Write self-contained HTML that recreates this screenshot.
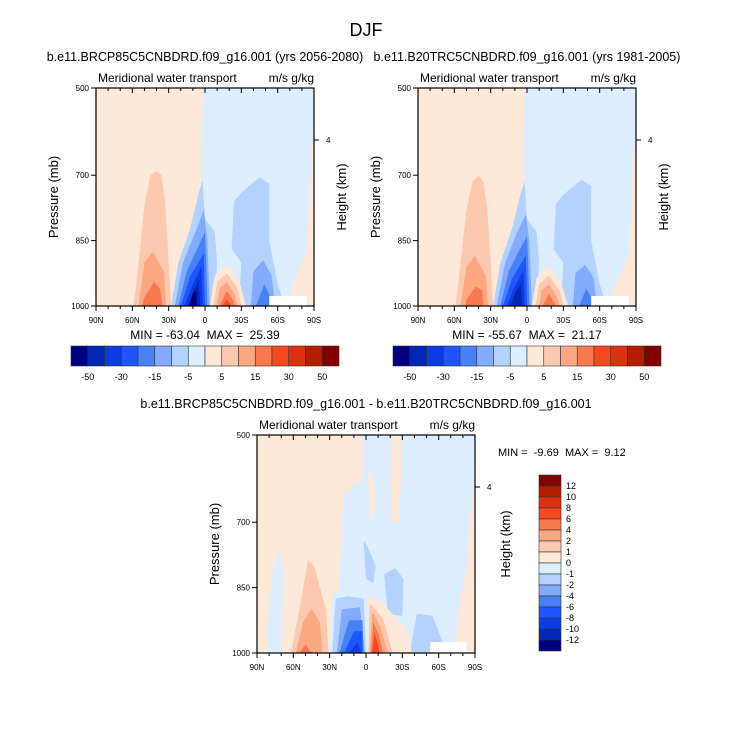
<!DOCTYPE html>
<html><head><meta charset="utf-8"><style>
body{margin:0;background:#fff}
svg text{font-family:"Liberation Sans",sans-serif;fill:#000;white-space:pre}
</style></head><body>
<svg id="c" width="733" height="745" viewBox="0 0 733 745" xmlns="http://www.w3.org/2000/svg">
<text x="366" y="36" font-size="18" text-anchor="middle">DJF</text>
</svg>
<script>
const palette=["#000080","#0028b4","#0a3ce0","#1e55ff","#4682f5","#82aaff","#b4d2ff","#dceeff","#fee8d8","#fcc8b0","#fba882","#f87850","#f54a20","#dc3210","#b41e00","#820000"];
const topLevels=["-50","-30","-15","-5","5","15","30","50"];
const diffLevels=["12","10","8","6","4","2","1","0","-1","-2","-4","-6","-8","-10","-12"];
const latTicks=[90,60,30,0,-30,-60,-90];
const latLabels=["90N","60N","30N","0","30S","60S","90S"];
const pTicks=[500,700,850,1000];
const p1Layers=[
[8,[[90,500],[2,500],[3,712],[8,800],[20,900],[28,1000],[90,1000]]],
[8,[[-90,555],[-84,870],[-73,950],[-68,1000],[-90,1000]]],
[9,[[40,690],[45,700],[50,770],[54,880],[59,1000],[28,1000],[30,900],[33,760],[36,700]]],
[10,[[43,875],[50,900],[55,1000],[32,1000],[34,920]]],
[11,[[42,945],[50,980],[52,1000],[35,1000],[37,960]]],
[6,[[2,712],[0,800],[-8,830],[-10,900],[-8,1000],[28,1000],[22,900],[12,820],[5,740]]],
[5,[[1,780],[-2,850],[-4,1000],[25,1000],[18,900],[8,830]]],
[4,[[0,830],[-1,900],[-2,1000],[22,1000],[15,920],[5,860]]],
[3,[[1,880],[0,1000],[20,1000],[12,930]]],
[2,[[3,910],[2,1000],[17,1000],[10,950]]],
[1,[[5,940],[4,1000],[14,1000],[9,960]]],
[0,[[7,965],[7,1000],[13,1000],[10,970]]],
[6,[[-45,705],[-53,720],[-53,850],[-60,950],[-66,1000],[-28,1000],[-30,900],[-22,870],[-24,760],[-30,740]]],
[5,[[-48,895],[-55,930],[-58,1000],[-38,1000],[-40,920]]],
[4,[[-49,950],[-55,985],[-55,1000],[-42,1000]]],
[8,[[-18,905],[-28,940],[-34,1000],[-4,1000],[-8,930]]],
[9,[[-18,925],[-27,960],[-30,1000],[-7,1000],[-10,945]]],
[10,[[-18,945],[-25,975],[-27,1000],[-10,1000],[-12,960]]],
[11,[[-18,965],[-24,990],[-24,1000],[-12,1000]]],
[12,[[-18,985],[-22,1000],[-14,1000]]]
];
const p2Layers=[
[8,[[90,500],[2,500],[3,715],[8,800],[20,900],[28,1000],[90,1000]]],
[8,[[-90,560],[-84,880],[-73,950],[-68,1000],[-90,1000]]],
[9,[[40,700],[45,715],[50,780],[54,880],[59,1000],[28,1000],[30,900],[33,770],[36,715]]],
[10,[[43,885],[50,910],[55,1000],[32,1000],[34,930]]],
[11,[[42,955],[50,985],[51,1000],[36,1000],[37,965]]],
[6,[[2,715],[0,800],[-8,830],[-10,900],[-8,1000],[28,1000],[22,900],[12,820],[5,740]]],
[5,[[1,790],[-2,850],[-4,1000],[25,1000],[18,900],[8,830]]],
[4,[[0,840],[-1,900],[-2,1000],[22,1000],[15,920],[5,865]]],
[3,[[1,885],[0,1000],[20,1000],[12,935]]],
[2,[[3,920],[2,1000],[17,1000],[10,955]]],
[1,[[5,950],[4,1000],[14,1000],[9,965]]],
[6,[[-45,710],[-53,725],[-53,850],[-60,950],[-66,1000],[-28,1000],[-30,900],[-22,870],[-24,765],[-30,745]]],
[5,[[-48,905],[-55,935],[-58,1000],[-38,1000],[-40,925]]],
[4,[[-49,960],[-55,990],[-55,1000],[-43,1000]]],
[8,[[-18,910],[-28,945],[-34,1000],[-4,1000],[-8,935]]],
[9,[[-18,930],[-27,965],[-30,1000],[-7,1000],[-10,950]]],
[10,[[-18,950],[-25,980],[-27,1000],[-10,1000],[-12,965]]],
[11,[[-18,972],[-23,995],[-23,1000],[-13,1000]]]
];
const p3Layers=[
[8,[[90,500],[3,500],[3,600],[18,640],[20,700],[22,850],[28,870],[30,1000],[90,1000]]],
[7,[[72,768],[68,800],[70,1000],[82,1000],[80,880],[76,800]]],
[8,[[-2,580],[-6,590],[-8,650],[-6,695],[-3,680],[-2,620]]],
[8,[[-22,500],[-29,500],[-29,600],[-27,700],[-22,703],[-20,600]]],
[8,[[-90,500],[-88,640],[-85,700],[-84,800],[-78,870],[-73,1000],[-90,1000]]],
[6,[[2,741],[-2,760],[-8,800],[-6,840],[0,830]]],
[6,[[-15,820],[-24,805],[-31,830],[-30,915],[-18,910]]],
[6,[[-42,910],[-55,915],[-67,1000],[-36,1000]]],
[8,[[-2,870],[-12,880],[-35,950],[-38,1000],[-2,1000]]],
[9,[[-3,885],[-14,920],[-22,1000],[-2,1000]]],
[10,[[-5,905],[-12,940],[-18,1000],[-3,1000]]],
[11,[[-6,930],[-11,960],[-14,1000],[-4,1000]]],
[12,[[-7,955],[-10,980],[-11,1000],[-5,1000]]],
[6,[[25,875],[15,870],[2,875],[0,1000],[28,1000]]],
[5,[[20,900],[5,895],[1,1000],[24,1000]]],
[4,[[14,925],[3,925],[2,1000],[22,1000]]],
[3,[[10,950],[3,950],[3,1000],[18,1000]]],
[2,[[7,975],[4,1000],[14,1000]]],
[9,[[48,787],[43,800],[33,900],[31,1000],[62,1000],[55,900]]],
[10,[[45,898],[38,930],[36,1000],[58,1000],[52,930]]],
[11,[[50,980],[55,1000],[45,1000]]]
];
const noData1=[[-53,977],[-84,1000]];
const noData3=[[-53,975],[-83,1000]];
const NS="http://www.w3.org/2000/svg";
const svg=document.getElementById('c');
function mk(tag,attrs,parent,txt){const e=document.createElementNS(NS,tag);for(const k in attrs)e.setAttribute(k,attrs[k]);if(txt!==undefined)e.textContent=txt;(parent||svg).appendChild(e);return e;}
function panel(x0,y0,w,h,layers,nod,name,sub,minmax,heightX){
  const X=lat=>x0+(90-lat)/180*w, Y=p=>y0+(p-500)/500*h;
  const g=mk('g',{});
  
  
  const bg=mk('rect',{x:x0,y:y0,width:w,height:h,fill:palette[7]},g);
  
  
  layers.forEach(L=>{
    const pth=mk('polygon',{points:L[1].map(q=>X(q[0]).toFixed(1)+','+Y(q[1]).toFixed(1)).join(' '),fill:palette[L[0]]},g);
    
    
  });
  const nd=mk('rect',{x:X(nod[0][0]),y:Y(nod[0][1]),width:X(nod[1][0])-X(nod[0][0]),height:Y(nod[1][1])-Y(nod[0][1]),fill:'#fff'},g);
  
  
  mk('rect',{x:x0,y:y0,width:w,height:h,fill:'none',stroke:'#000','stroke-width':1.2},g);
  for(let l=90;l>=-90;l-=10){
    const mj=l%30===0;
    mk('line',{x1:X(l),x2:X(l),y1:y0+h,y2:y0+h+(mj?5:3),stroke:'#000'},g);
    mk('line',{x1:X(l),x2:X(l),y1:y0,y2:y0+(mj?5:3),stroke:'#000'},g);
  }
  latTicks.forEach((l,i)=>{const t=mk('text',{x:X(l),y:y0+h+17,'font-size':8,'text-anchor':'middle'},g,latLabels[i]);});
  pTicks.forEach(p=>{mk('line',{x1:x0-5,x2:x0,y1:Y(p),y2:Y(p),stroke:'#000'},g);const t=mk('text',{x:x0-7,y:Y(p)+3,'font-size':8,'text-anchor':'end'},g,p);});
  mk('line',{x1:x0+w,x2:x0+w+5,y1:y0+52,y2:y0+52,stroke:'#000'},g);
  mk('text',{x:x0+w+12,y:y0+55,'font-size':8},g,'4');
  let t=mk('text',{x:x0+2,y:y0-6,'font-size':12},g,'Meridional water transport');
  t=mk('text',{x:x0+w,y:y0-6,'font-size':12,'text-anchor':'end'},g,'m/s g/kg');
  if(sub){t=mk('text',{x:x0+w/2,y:y0-27,'font-size':12.5,'text-anchor':'middle'},g,sub);}
  t=mk('text',{transform:`translate(${x0-38},${y0+h/2}) rotate(-90)`,'font-size':13,'text-anchor':'middle'},g,'Pressure (mb)');
  t=mk('text',{transform:`translate(${heightX},${y0+h/2}) rotate(-90)`,'font-size':13,'text-anchor':'middle'},g,'Height (km)');
  if(minmax){t=mk('text',{x:x0+w/2,y:y0+h+33,'font-size':12,'text-anchor':'middle'},g,minmax);}
}
panel(96,88,218,218,p1Layers,noData1,'panel-future','b.e11.BRCP85C5CNBDRD.f09_g16.001 (yrs 2056-2080)','MIN = -63.04  MAX =  25.39',346);
panel(418,88,218,218,p2Layers,noData1,'panel-historical','b.e11.B20TRC5CNBDRD.f09_g16.001 (yrs 1981-2005)','MIN = -55.67  MAX =  21.17',668);
panel(257,435,218,218,p3Layers,noData3,'panel-difference','b.e11.BRCP85C5CNBDRD.f09_g16.001 - b.e11.B20TRC5CNBDRD.f09_g16.001',null,510);
let mm=mk('text',{x:498,y:456,'font-size':11},svg,'MIN =  -9.69  MAX =  9.12');


function hbar(x0,y0){
  const bw=268/16;
  palette.forEach((c,i)=>{const r=mk('rect',{x:x0+i*bw,y:y0,width:bw,height:20,fill:c,stroke:'#333','stroke-width':0.6});});
  topLevels.forEach((l,i)=>{const t=mk('text',{x:x0+(2*i+1)*bw,y:y0+34,'font-size':9,'text-anchor':'middle'},svg,l);});
}
hbar(71,346);hbar(393,346);
const bh=176/16;
palette.slice().reverse().forEach((c,i)=>{const r=mk('rect',{x:539,y:475+i*bh,width:22,height:bh,fill:c,stroke:'#333','stroke-width':0.6});});
diffLevels.forEach((l,i)=>{const t=mk('text',{x:566,y:475+(i+1)*bh+3,'font-size':9},svg,l);});
</script>
</body></html>
